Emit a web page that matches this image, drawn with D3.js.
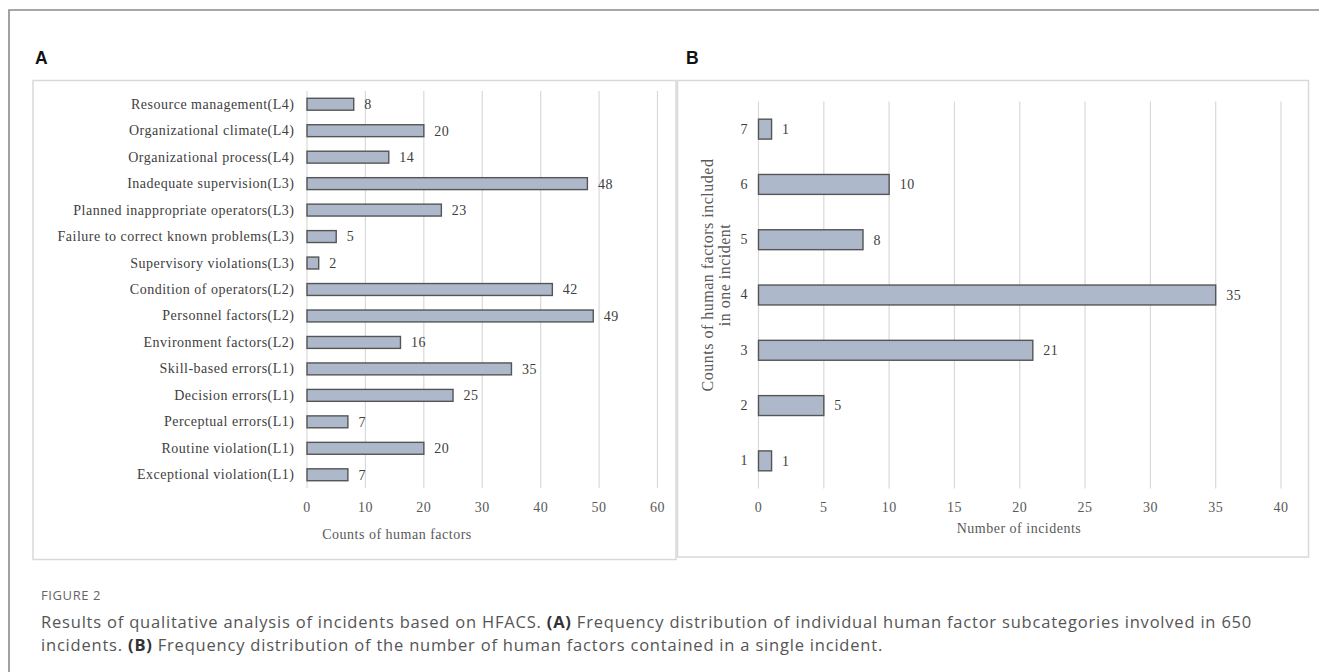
<!DOCTYPE html>
<html>
<head>
<meta charset="utf-8">
<script src="https://cdn.jsdelivr.net/npm/d3@7"></script>
<style>
  html, body { margin: 0; padding: 0; background: #fff; }
  svg { display: block; }
</style>
</head>
<body>
<svg id="chart" width="1319" height="672"></svg>
<script>
// ---- Data ----
const categoriesA = [
  "Resource management(L4)",
  "Organizational climate(L4)",
  "Organizational process(L4)",
  "Inadequate supervision(L3)",
  "Planned inappropriate operators(L3)",
  "Failure to correct known problems(L3)",
  "Supervisory violations(L3)",
  "Condition of operators(L2)",
  "Personnel factors(L2)",
  "Environment factors(L2)",
  "Skill-based errors(L1)",
  "Decision errors(L1)",
  "Perceptual errors(L1)",
  "Routine violation(L1)",
  "Exceptional violation(L1)"
];
const valuesA = [8, 20, 14, 48, 23, 5, 2, 42, 49, 16, 35, 25, 7, 20, 7];
const ticksA = [0, 10, 20, 30, 40, 50, 60];

const categoriesB = ["7", "6", "5", "4", "3", "2", "1"];
const valuesB = [1, 10, 8, 35, 21, 5, 1];
const ticksB = [0, 5, 10, 15, 20, 25, 30, 35, 40];

const titleA = "Counts of human factors";
const titleB = "Number of incidents";
const yTitleB = ["Counts of human factors included", "in one incident"];
const captionHead = "FIGURE 2";

// ---- Styles ----
const serif = "'Liberation Serif', 'Times New Roman', serif";
const barFill = "#adb9ca";
const barStroke = "#555555";
const gridColor = "#d9d9d9";
const textColor = "#404040";
const fs = 14;
const ls = 0.5;

const svg = d3.select("#chart");

// outer figure border
svg.append("path")
  .attr("d", "M9,1000 L9,10 L1325,10")
  .attr("fill", "none").attr("stroke", "#8a8a8a").attr("stroke-width", 1.6);

// panel letters
svg.append("text").attr("x", 35).attr("y", 64).text("A")
  .attr("font-family", "'Liberation Sans', Arial, sans-serif").attr("font-weight", "bold")
  .attr("font-size", 17.5).attr("fill", "#111");
svg.append("text").attr("x", 686).attr("y", 64).text("B")
  .attr("font-family", "'Liberation Sans', Arial, sans-serif").attr("font-weight", "bold")
  .attr("font-size", 17.5).attr("fill", "#111");

// panel boxes
svg.append("rect").attr("x", 33).attr("y", 80.5).attr("width", 643).attr("height", 479)
  .attr("fill", "none").attr("stroke", "#d9d9d9").attr("stroke-width", 1.5);
svg.append("rect").attr("x", 677.5).attr("y", 80.5).attr("width", 631).attr("height", 476.5)
  .attr("fill", "none").attr("stroke", "#d9d9d9").attr("stroke-width", 1.5);

function styleText(sel, color) {
  sel.attr("font-family", serif).attr("font-size", fs).attr("fill", color).attr("letter-spacing", ls);
}

function drawPanel(opts) {
  const {cats, vals, ticks, xRange, yRange, pad, labelGap, title, titleX, titleY, tickY} = opts;
  const x = d3.scaleLinear().domain([ticks[0], ticks[ticks.length - 1]]).range(xRange);
  const y = d3.scaleBand().domain(cats).range(yRange).paddingInner(pad).paddingOuter(pad / 2);
  const g = svg.append("g");

  // gridlines
  g.append("g").selectAll("line").data(ticks).join("line")
    .attr("x1", d => x(d) + 0.5).attr("x2", d => x(d) + 0.5)
    .attr("y1", yRange[0]).attr("y2", yRange[1])
    .attr("stroke", gridColor).attr("stroke-width", 1.2);

  // x tick labels via axis
  const xAxis = d3.axisBottom(x).tickValues(ticks).tickSize(0).tickPadding(0).tickFormat(d3.format("d"));
  const ax = g.append("g").attr("transform", `translate(0,${tickY})`).call(xAxis);
  ax.select(".domain").remove();
  ax.selectAll("text").call(styleText, "#595959").attr("dy", 0);

  // y category labels via axis
  const yAxis = d3.axisLeft(y).tickSize(0).tickPadding(labelGap);
  const ay = g.append("g").attr("transform", `translate(${xRange[0]},0)`).call(yAxis);
  ay.select(".domain").remove();
  ay.selectAll("text").call(styleText, textColor);

  // bars
  g.append("g").selectAll("rect").data(cats).join("rect")
    .attr("x", x(0) + 0.5)
    .attr("y", (d) => y(d))
    .attr("width", (d, i) => x(vals[i]) - x(0))
    .attr("height", y.bandwidth())
    .attr("fill", barFill).attr("stroke", barStroke).attr("stroke-width", 1.4);

  // value labels
  g.append("g").selectAll("text").data(cats).join("text")
    .attr("x", (d, i) => x(vals[i]) + 11)
    .attr("y", d => y(d) + y.bandwidth() / 2)
    .attr("dy", "0.35em")
    .text((d, i) => vals[i])
    .call(styleText, textColor);

  // x title
  g.append("text").attr("x", titleX).attr("y", titleY).attr("text-anchor", "middle")
    .text(title).call(styleText, "#595959");
  return {x, y};
}

drawPanel({
  cats: categoriesA, vals: valuesA, ticks: ticksA,
  xRange: [306.5, 657], yRange: [91, 488], pad: 0.55, labelGap: 12,
  title: titleA, titleX: 397, titleY: 539, tickY: 512
});

drawPanel({
  cats: categoriesB, vals: valuesB, ticks: ticksB,
  xRange: [758, 1280.5], yRange: [101.5, 488.5], pad: 0.64, labelGap: 10,
  title: titleB, titleX: 1019, titleY: 533, tickY: 512
});

// rotated y title for panel B
const yt = svg.append("text")
  .attr("transform", "translate(713,275) rotate(-90)")
  .attr("text-anchor", "middle")
  .attr("font-family", serif).attr("font-size", 16).attr("fill", "#595959").attr("letter-spacing", 0.5);
yt.selectAll("tspan").data(yTitleB).join("tspan")
  .attr("x", 0).attr("dy", (d, i) => i === 0 ? 0 : 17).text(d => d);

// caption
const capFont = "'Open Sans', 'Noto Sans', sans-serif";
svg.append("text").attr("x", 41).attr("y", 600).text(captionHead)
  .attr("font-family", capFont).attr("font-size", 13).attr("fill", "#666").attr("letter-spacing", 0.6);

const cap1 = svg.append("text").attr("x", 41).attr("y", 628)
  .attr("font-family", capFont).attr("font-size", 16.5).attr("fill", "#555").attr("letter-spacing", 0.8);
cap1.append("tspan").text("Results of qualitative analysis of incidents based on HFACS. ");
cap1.append("tspan").attr("font-weight", "bold").attr("fill", "#333").text("(A)");
cap1.append("tspan").text(" Frequency distribution of individual human factor subcategories involved in 650");

const cap2 = svg.append("text").attr("x", 41).attr("y", 651)
  .attr("font-family", capFont).attr("font-size", 16.5).attr("fill", "#555").attr("letter-spacing", 0.8);
cap2.append("tspan").text("incidents. ");
cap2.append("tspan").attr("font-weight", "bold").attr("fill", "#333").text("(B)");
cap2.append("tspan").text(" Frequency distribution of the number of human factors contained in a single incident.");
</script>
</body>
</html>
